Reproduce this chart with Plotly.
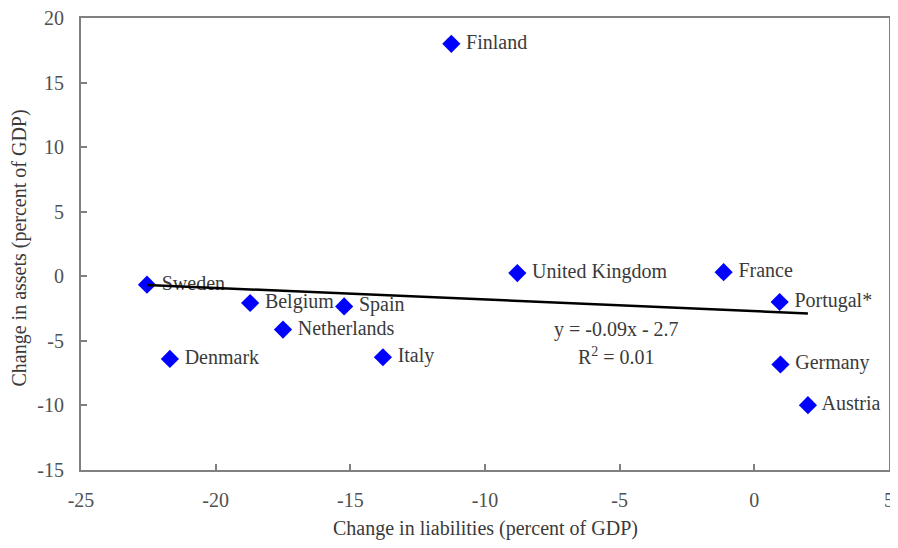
import plotly.graph_objects as go

countries = ["Finland", "Sweden", "Belgium", "Spain", "Netherlands", "Denmark", "Italy",
             "United Kingdom", "France", "Portugal*", "Germany", "Austria"]
liabilities = [-11.25, -22.55, -18.72, -15.23, -17.5, -21.7, -13.79, -8.8, -1.14, 0.94, 0.97, 1.99]
assets = [18.0, -0.65, -2.07, -2.33, -4.13, -6.4, -6.27, 0.25, 0.32, -1.99, -6.83, -9.98]

slope = -0.09
intercept = -2.7
r_squared = 0.01

x_ticks = [-25, -20, -15, -10, -5, 0, 5]
y_ticks = [-15, -10, -5, 0, 5, 10, 15, 20]
x_ticktext = [str(v) for v in x_ticks]
y_ticktext = [str(v) for v in y_ticks]

serif = "Liberation Serif"
txt_col = "#3a3a3a"
tick_col = "#505050"

fig = go.Figure()

fig.add_trace(go.Scatter(
    x=liabilities, y=assets, mode="markers+text",
    text=[" " + c for c in countries], textposition="middle right",
    textfont=dict(family=serif, size=20, color=txt_col),
    marker=dict(symbol="diamond", size=14, color="#0000FF", line=dict(width=0)),
    showlegend=False, cliponaxis=False,
))

x0, x1 = min(liabilities), max(liabilities)
fig.add_trace(go.Scatter(
    x=[x0, x1], y=[slope * x0 + intercept, slope * x1 + intercept],
    mode="lines", line=dict(color="black", width=2.5), showlegend=False,
))

fig.add_annotation(x=-5.1, y=-4.1, xref="x", yref="y",
                   text=f"y = {slope}x - {abs(intercept)}", showarrow=False,
                   font=dict(family=serif, size=20, color=txt_col))
fig.add_annotation(x=-5.1, y=-6.2, xref="x", yref="y",
                   text=f"R<sup>2</sup> = {r_squared}", showarrow=False,
                   font=dict(family=serif, size=20, color=txt_col))

fig.add_annotation(x=0.5, y=0, xref="paper", yref="paper", yshift=-58,
                   xanchor="center", yanchor="middle", showarrow=False,
                   text="Change in liabilities (percent of GDP)",
                   font=dict(family=serif, size=20, color=txt_col))
fig.add_annotation(x=0, y=0.49, xref="paper", yref="paper", xshift=-61,
                   xanchor="center", yanchor="middle", showarrow=False, textangle=-90,
                   text="Change in assets (percent of GDP)",
                   font=dict(family=serif, size=20, color=txt_col))

axis_common = dict(
    showgrid=False, zeroline=False, showline=True, linecolor="#808080", linewidth=2,
    mirror=True, ticks="inside", ticklen=6, tickcolor="#808080", tickwidth=1.5,
    tickfont=dict(family=serif, size=20, color=tick_col), automargin=False,
    ticklabeloverflow="allow",
)

fig.update_xaxes(range=[-25, 5], tickvals=x_ticks, ticktext=x_ticktext,
                 ticklabelstandoff=11, **axis_common)
fig.update_yaxes(range=[-15, 20], tickvals=y_ticks, ticktext=y_ticktext,
                 ticklabelstandoff=11, **axis_common)

fig.update_layout(
    width=882, height=532,
    margin=dict(l=73, r=1, t=10, b=70),
    plot_bgcolor="white", paper_bgcolor="white",
)

fig.write_html("out.html")
